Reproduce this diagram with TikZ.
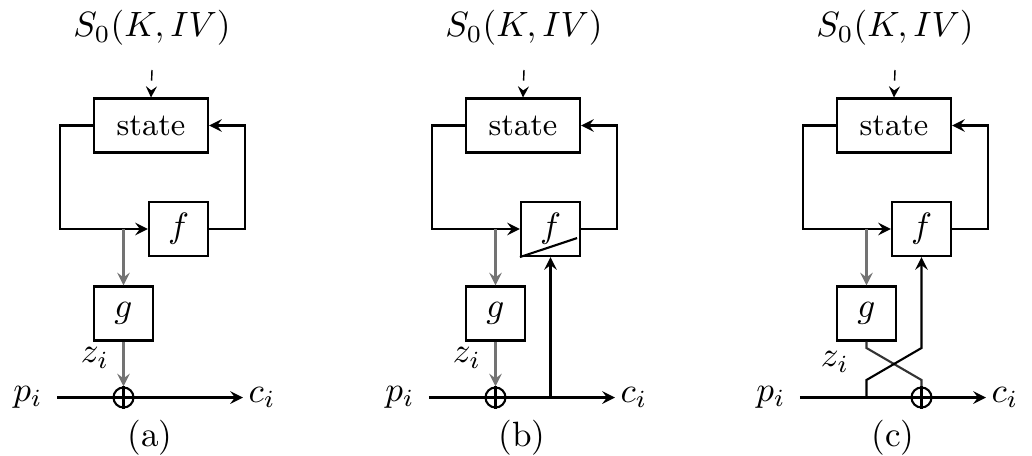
\documentclass[tikz,border=0pt]{standalone}
\usepackage{amssymb,amsmath}
\usepackage{tikz}
\usetikzlibrary{calc,arrows.meta}

\begin{document}
\begin{tikzpicture}[>=stealth,
		blk/.style={draw, semithick, inner sep=0pt, minimum width=0.59cm, minimum height=0.54cm},
		wire/.style={semithick},
		zwire/.style={semithick, black!55},
		xorop/.style={draw, semithick, circle, inner sep=0pt, minimum size=0.2cm}]
	\useasboundingbox (0,0) rectangle (10.32,4.55);
	% (a) output feedback / synchronous
	\begin{scope}
		\node (Sa) at (1.52,4.27) {$S_0(K,IV)$};
		\node[blk, minimum width=1.14cm] (statea) at (1.51,3.295) {\small state};
		\node[blk] (fa) at (1.785,2.26) {$f$};
		\node[blk] (ga) at (1.235,1.415) {$g$};
		\node[xorop] (xora) at (1.235,0.575) {};
		\coordinate (ina) at (0.57,0.575);
		\coordinate (outa) at (2.43,0.575);
		\node (pa) at (0.28,0.575) {$p_i$};
		\node (ca) at (2.62,0.575) {$c_i$};
		\node (za) at (0.95,0.97) {$z_i$};
		\node (capa) at (1.50,0.17) {(a)};
		% state loop
		\draw[dashed,->] (Sa.south) ++(0,-0.12) -- (statea.north);
		\draw[wire,->] (statea.west) -- ++(-0.33,0) |- (fa.west);
		\draw[wire,->] (fa.east) -- ++(0.36,0) |- (statea.east);
		% keystream
		\draw[zwire,->] (fa.west -| ga) -- (ga.north);
		\draw[zwire,->] (ga.south) -- (xora.north);
		\draw[wire,->] (ina) -- (outa);
		\draw[wire] (xora.north) -- (xora.south);
	\end{scope}
	% (b) ciphertext fed into f
	\begin{scope}[shift={(3.72,0)}]
		\node (Sb) at (1.52,4.27) {$S_0(K,IV)$};
		\node[blk, minimum width=1.14cm] (stateb) at (1.51,3.295) {\small state};
		\node[blk] (fb) at (1.785,2.26) {$f$};
		\node[blk] (gb) at (1.235,1.415) {$g$};
		\node[xorop] (xorb) at (1.235,0.575) {};
		\coordinate (inb) at (0.57,0.575);
		\coordinate (outb) at (2.43,0.575);
		\node (pb) at (0.28,0.575) {$p_i$};
		\node (cb) at (2.62,0.575) {$c_i$};
		\node (zb) at (0.95,0.97) {$z_i$};
		\node (capb) at (1.50,0.17) {(b)};
		% state loop
		\draw[dashed,->] (Sb.south) ++(0,-0.12) -- (stateb.north);
		\draw[wire,->] (stateb.west) -- ++(-0.33,0) |- (fb.west);
		\draw[wire,->] (fb.east) -- ++(0.36,0) |- (stateb.east);
		\draw[wire] (fb.south west) -- ($(fb.south east)+(-0.04,0.19)$);
		% keystream and feedback
		\draw[zwire,->] (fb.west -| gb) -- (gb.north);
		\draw[zwire,->] (gb.south) -- (xorb.north);
		\draw[wire,->] (inb) -- (outb);
		\draw[wire] (xorb.north) -- (xorb.south);
		\draw[wire,->] (fb |- inb) -- (fb.south);
	\end{scope}
	% (c) crossed paths
	\begin{scope}[shift={(7.43,0)}]
		\node (Sc) at (1.52,4.27) {$S_0(K,IV)$};
		\node[blk, minimum width=1.14cm] (statec) at (1.51,3.295) {\small state};
		\node[blk] (fc) at (1.785,2.26) {$f$};
		\node[blk] (gc) at (1.235,1.415) {$g$};
		\node[xorop] (xorc) at (1.785,0.575) {};
		\coordinate (inc) at (0.57,0.575);
		\coordinate (outc) at (2.43,0.575);
		\coordinate (hic) at (0,1.07);
		\coordinate (loc) at (0,0.75);
		\node (pc) at (0.28,0.575) {$p_i$};
		\node (cc) at (2.62,0.575) {$c_i$};
		\node (zc) at (0.92,0.93) {$z_i$};
		\node (capc) at (1.50,0.17) {(c)};
		% state loop
		\draw[dashed,->] (Sc.south) ++(0,-0.12) -- (statec.north);
		\draw[wire,->] (statec.west) -- ++(-0.33,0) |- (fc.west);
		\draw[wire,->] (fc.east) -- ++(0.36,0) |- (statec.east);
		% keystream and feedback cross
		\draw[zwire,->] (fc.west -| gc) -- (gc.north);
		\draw[wire, black!80] (gc.south) -- (gc |- hic) -- (xorc |- loc) -- (xorc.north);
		\draw[wire,->] (gc |- inc) -- (gc |- loc) -- (fc |- hic) -- (fc.south);
		\draw[wire,->] (inc) -- (outc);
		\draw[wire] (xorc.north) -- (xorc.south);
	\end{scope}
\end{tikzpicture}
\end{document}
